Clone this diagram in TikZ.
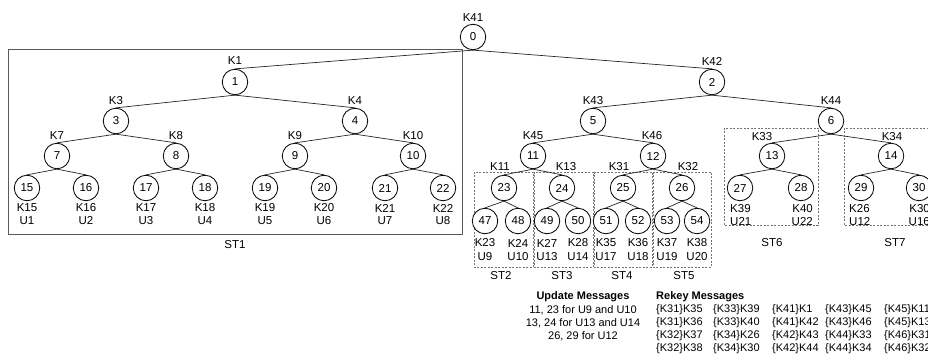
\documentclass[tikz,border=0pt]{standalone}
\usepackage{fontspec}
\setmainfont{Liberation Sans}
\begin{document}
\begin{tikzpicture}[x=1pt,y=-1pt,
  nd/.style={circle, draw=black, line width=0.8pt, fill=white, minimum size=25.5pt, inner sep=0pt, font=\fontsize{11.5}{13}\selectfont},
  kl/.style={font=\fontsize{11.5}{13}\selectfont, inner sep=0pt},
  ed/.style={draw=black!85, line width=0.7pt},
  sbox/.style={draw=black!65, line width=0.9pt},
  dbox/.style={draw=black!55, line width=0.6pt, dash pattern=on 2pt off 1.5pt},
  msg/.style={font=\fontsize{11}{13}\selectfont, inner sep=0pt},
  msgb/.style={font=\fontsize{11}{13}\selectfont\bfseries, inner sep=0pt}]
\useasboundingbox (0,0) rectangle (928,358);
\clip (0,0) rectangle (928,358);

% subtree boxes
\draw[sbox] (8,49) rectangle (462,234);
\draw[dbox] (474,172) rectangle (533,267);
\draw[dbox] (534,172) rectangle (593,267);
\draw[dbox] (594,172) rectangle (652,267);
\draw[dbox] (653,172) rectangle (711,267);
\draw[dbox] (724,128) rectangle (818,225);
\draw[dbox] (844,128) rectangle (945,225);

% nodes
\node[nd] (n0) at (473,37) {0};
\node[nd] (n1) at (235,82) {1};
\node[nd] (n2) at (712,82) {2};
\node[nd] (n3) at (116,121) {3};
\node[nd] (n4) at (355,121) {4};
\node[nd] (n5) at (593,121) {5};
\node[nd] (n6) at (831,121) {6};
\node[nd] (n7) at (57,156) {7};
\node[nd] (n8) at (176,156) {8};
\node[nd] (n9) at (295,156) {9};
\node[nd] (n10) at (413,156) {10};
\node[nd] (n11) at (533,156) {11};
\node[nd] (n12) at (653,156) {12};
\node[nd] (n13) at (772,156) {13};
\node[nd] (n14) at (891,156) {14};
\node[nd] (n15) at (27,188) {15};
\node[nd] (n16) at (86,188) {16};
\node[nd] (n17) at (146,188) {17};
\node[nd] (n18) at (205,188) {18};
\node[nd] (n19) at (265,188) {19};
\node[nd] (n20) at (324,188) {20};
\node[nd] (n21) at (385,188) {21};
\node[nd] (n22) at (443,188) {22};
\node[nd] (n23) at (504,188) {23};
\node[nd] (n24) at (562,188) {24};
\node[nd] (n25) at (623,188) {25};
\node[nd] (n26) at (682,188) {26};
\node[nd] (n27) at (740,188) {27};
\node[nd] (n28) at (801,188) {28};
\node[nd] (n29) at (861,188) {29};
\node[nd] (n30) at (919,188) {30};
\node[nd] (n47) at (485,221) {47};
\node[nd] (n48) at (518,221) {48};
\node[nd] (n49) at (547,221) {49};
\node[nd] (n50) at (578,221) {50};
\node[nd] (n51) at (606,221) {51};
\node[nd] (n52) at (638,221) {52};
\node[nd] (n53) at (667,221) {53};
\node[nd] (n54) at (697,221) {54};

% edges
\foreach \p/\c in {0/1,0/2,1/3,1/4,2/5,2/6,3/7,3/8,4/9,4/10,5/11,5/12,6/13,6/14,
  7/15,7/16,8/17,8/18,9/19,9/20,10/21,10/22,11/23,11/24,12/25,12/26,13/27,13/28,14/29,14/30,
  23/47,23/48,24/49,24/50,25/51,25/52,26/53,26/54}
  \draw[ed] (n\p.south) -- (n\c.north);

% key labels above nodes
\foreach \t/\x/\y in {K41/473/18, K1/235/61, K42/712/61, K3/116/101, K4/355/101,
  K43/593/101, K44/831/101, K7/57/136, K8/176/136, K9/295/136, K10/413/136,
  K45/533/136, K46/652/136, K33/762/137, K34/892/137,
  K11/500/167, K13/566/167, K31/619/167, K32/688/167}
  \node[kl] (lab\t) at (\x,\y) {\t};

% key / user labels below leaves
\foreach \k/\u/\x in {K15/U1/27, K16/U2/86, K17/U3/146, K18/U4/205, K19/U5/265,
  K20/U6/324, K21/U7/385, K22/U8/443}{
  \node[kl] (lk\k) at (\x,208) {\k};
  \node[kl] (lu\u) at (\x,221) {\u};
}
\foreach \k/\u/\x in {K23/U9/485, K24/U10/518, K27/U13/547, K28/U14/578,
  K35/U17/606, K36/U18/638, K37/U19/667, K38/U20/697}{
  \node[kl] (lk\k) at (\x,243) {\k};
  \node[kl] (lu\u) at (\x,257) {\u};
}
\node[kl, anchor=west] (lkK39) at (730,209) {K39};
\node[kl, anchor=west] (luU21) at (730,222) {U21};
\node[kl, anchor=east] (lkK40) at (813,209) {K40};
\node[kl, anchor=east] (luU22) at (813,222) {U22};
\node[kl, anchor=west] (lkK26) at (849,209) {K26};
\node[kl, anchor=west] (luU12) at (849,222) {U12};
\node[kl, anchor=east] (lkK30) at (930,209) {K30};
\node[kl, anchor=east] (luU16) at (930,222) {U16};

% subtree names
\node[kl] (st1) at (235,245) {ST1};
\node[kl] (st2) at (501,276) {ST2};
\node[kl] (st3) at (562,276) {ST3};
\node[kl] (st4) at (622,276) {ST4};
\node[kl] (st5) at (684,276) {ST5};
\node[kl] (st6) at (772,243) {ST6};
\node[kl] (st7) at (895,243) {ST7};

% messages
\node[msgb] (upd) at (583,297) {Update Messages};
\node[msg] (u1) at (583,310) {11, 23 for U9 and U10};
\node[msg] (u2) at (583,323) {13, 24 for U13 and U14};
\node[msg] (u3) at (583,336) {26, 29 for U12};
\node[msgb, anchor=west] (rek) at (656,297) {Rekey Messages};
\foreach \a/\b/\c/\d/\y in {K31/K35/K31/K36/310}{}
\foreach \x/\la/\lb/\lc/\ld in {656/{\{K31\}K35}/{\{K31\}K36}/{\{K32\}K37}/{\{K32\}K38},
  713/{\{K33\}K39}/{\{K33\}K40}/{\{K34\}K26}/{\{K34\}K30},
  772/{\{K41\}K1}/{\{K41\}K42}/{\{K42\}K43}/{\{K42\}K44},
  825/{\{K43\}K45}/{\{K43\}K46}/{\{K44\}K33}/{\{K44\}K34},
  884/{\{K45\}K11}/{\{K45\}K13}/{\{K46\}K31}/{\{K46\}K32}}{
  \node[msg, anchor=west] at (\x,310) {\la};
  \node[msg, anchor=west] at (\x,323) {\lb};
  \node[msg, anchor=west] at (\x,336) {\lc};
  \node[msg, anchor=west] at (\x,349) {\ld};
}
\end{tikzpicture}
\end{document}
